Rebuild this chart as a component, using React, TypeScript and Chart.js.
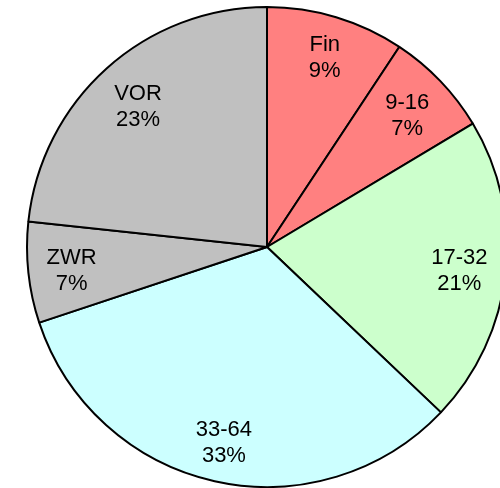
import React, { useEffect, useRef } from "react";
import { Chart, registerables } from "chart.js";

Chart.register(...registerables);

const categories = ["Fin", "9-16", "17-32", "33-64", "ZWR", "VOR"];
const values = [9.3, 7.1, 20.7, 32.8, 6.8, 23.3];
const colors = ["#FF8080", "#FF8080", "#CCFFCC", "#CCFFFF", "#C0C0C0", "#C0C0C0"];

const LINE_GAP = 26;

const labelPlugin = {
  id: "sliceLabels",
  afterDatasetsDraw(chart: any) {
    const ctx = chart.ctx;
    const meta = chart.getDatasetMeta(0);
    const data = chart.data.datasets[0].data as number[];
    const total = data.reduce((a, b) => a + b, 0);
    ctx.save();
    ctx.font = '22px "Liberation Sans", Arial, sans-serif';
    ctx.fillStyle = "#000";
    ctx.textAlign = "center";
    ctx.textBaseline = "middle";
    meta.data.forEach((arc: any, i: number) => {
      const { x, y, startAngle, endAngle, outerRadius } = arc.getProps(
        ["x", "y", "startAngle", "endAngle", "outerRadius"],
        true
      );
      const mid = (startAngle + endAngle) / 2;
      const l1 = String(chart.data.labels[i]);
      const l2 = Math.round((data[i] / total) * 100) + "%";
      const hw = Math.max(ctx.measureText(l1).width, ctx.measureText(l2).width) / 2 + 2;
      const hh = 22;
      const dx = Math.cos(mid);
      const dy = Math.sin(mid);
      const limit = outerRadius - 13;
      // inside-end placement: push box outward until farthest corner hits limit
      let r = 0;
      for (let t = 0; t <= outerRadius; t += 0.5) {
        const cx = dx * t;
        const cy = dy * t;
        const far = Math.hypot(Math.abs(cx) + hw, Math.abs(cy) + hh);
        if (far > limit) break;
        r = t;
      }
      const px = x + dx * r;
      const py = y + dy * r + 3;
      ctx.fillText(l1, px, py - LINE_GAP / 2);
      ctx.fillText(l2, px, py + LINE_GAP / 2);
    });
    ctx.restore();
  },
};

export default function App() {
  const ref = useRef<HTMLCanvasElement>(null);
  useEffect(() => {
    if (!ref.current) return;
    const chart = new Chart(ref.current, {
      type: "pie",
      data: {
        labels: categories,
        datasets: [
          {
            data: values,
            backgroundColor: colors,
            borderColor: "#000",
            borderWidth: 2,
            borderAlign: "center",
          },
        ],
      },
      options: {
        responsive: false,
        animation: false,
        layout: { padding: 6 },
        plugins: {
          legend: { display: false },
          tooltip: { enabled: false },
        },
      },
      plugins: [labelPlugin],
    });
    return () => chart.destroy();
  }, []);
  return (
    <div
      style={{
        position: "fixed",
        left: 0,
        top: 0,
        width: 500,
        height: 488,
        overflow: "hidden",
        background: "#fff",
      }}
    >
      <canvas ref={ref} width={534} height={494} style={{ width: 534, height: 494, display: "block" }} />
    </div>
  );
}
